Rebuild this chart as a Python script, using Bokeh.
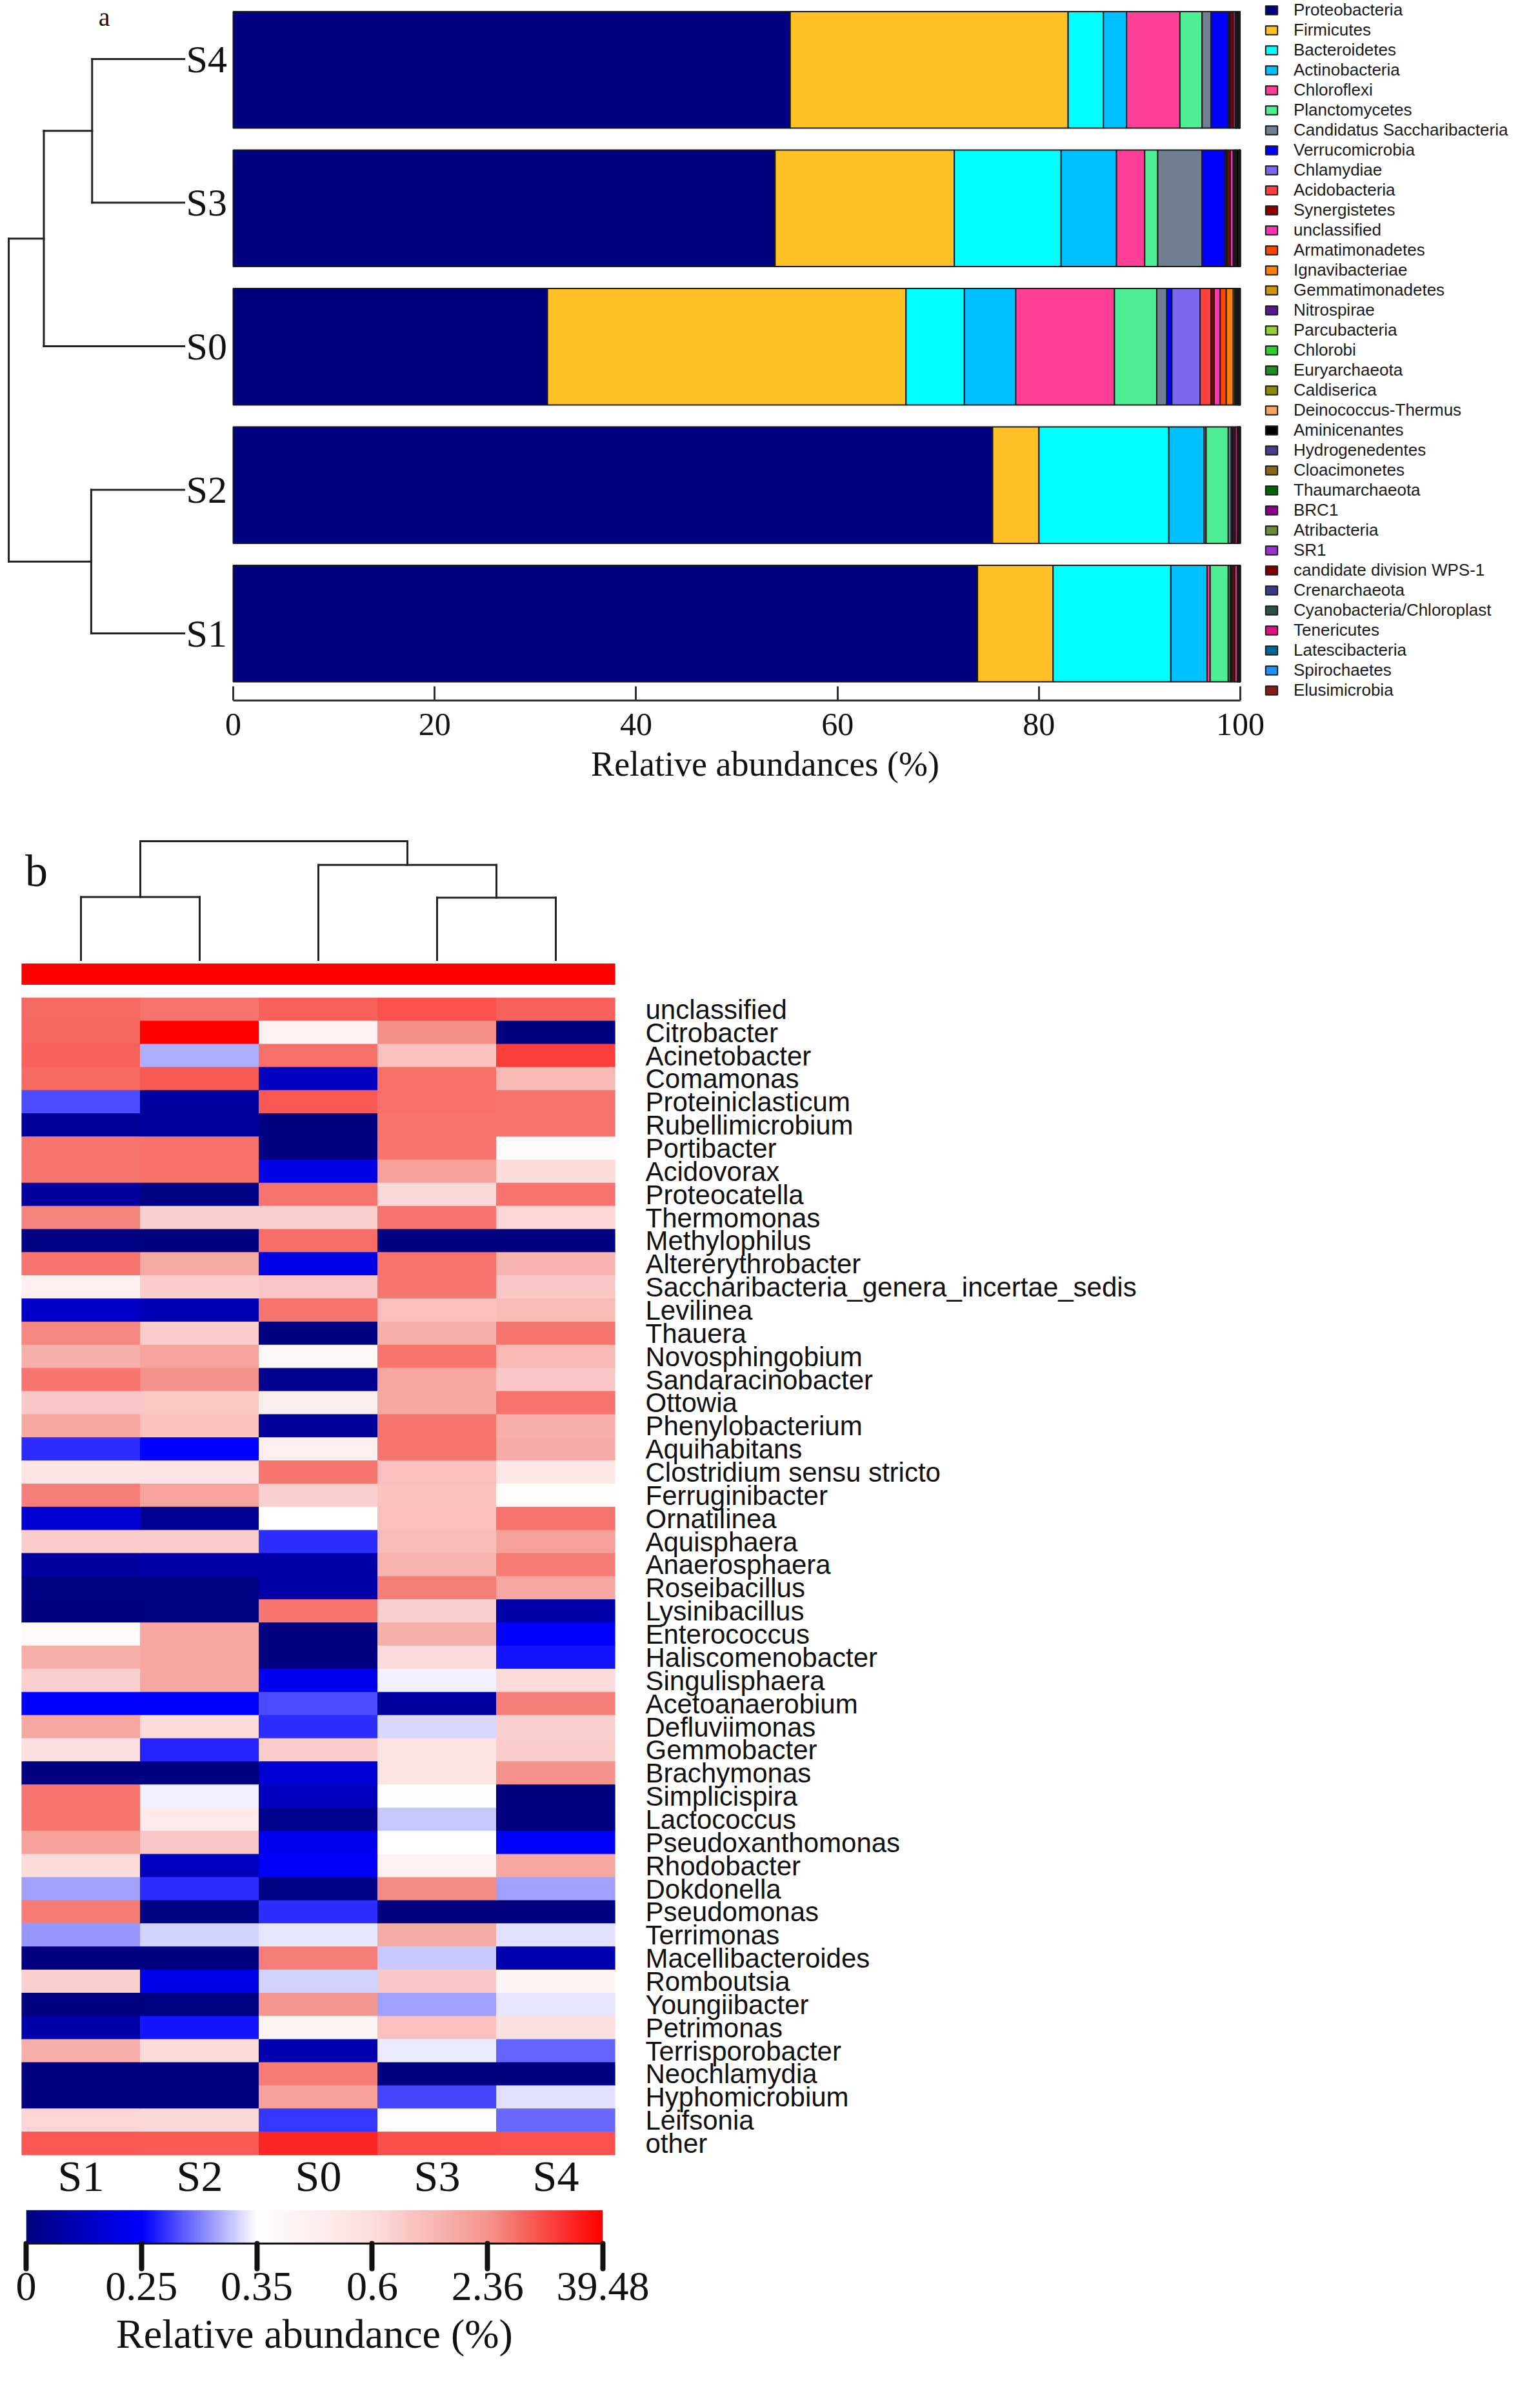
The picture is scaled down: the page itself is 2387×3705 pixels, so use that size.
import numpy as np
from bokeh.plotting import figure
from bokeh.models import (Range1d, LinearColorMapper, Legend, LegendItem, FixedTicker,
                          ColumnDataSource, Label, LinearAxis)
from bokeh.layouts import row, column
from bokeh.embed import file_html
from bokeh.resources import INLINE
from bokeh.core.properties import value
from bokeh.transform import transform

# ---------------------------------------------------------------- data
samples = ["S1", "S2", "S0", "S3", "S4"]          # bottom-to-top in (a), left-to-right in (b)

phyla = ["Proteobacteria", "Firmicutes", "Bacteroidetes", "Actinobacteria", "Chloroflexi",
         "Planctomycetes", "Candidatus Saccharibacteria", "Verrucomicrobia", "Chlamydiae",
         "Acidobacteria", "Synergistetes", "unclassified", "Armatimonadetes", "Ignavibacteriae",
         "Gemmatimonadetes", "Nitrospirae", "Parcubacteria", "Chlorobi", "Euryarchaeota",
         "Caldiserica", "Deinococcus-Thermus", "Aminicenantes", "Hydrogenedentes",
         "Cloacimonetes", "Thaumarchaeota", "BRC1", "Atribacteria", "SR1",
         "candidate division WPS-1", "Crenarchaeota", "Cyanobacteria/Chloroplast",
         "Tenericutes", "Latescibacteria", "Spirochaetes", "Elusimicrobia"]

phylum_colors = ["#000080", "#FFC125", "#00FFFF", "#00BFFF", "#FF3E96", "#4EEE94", "#708090",
                 "#0000FF", "#7B68EE", "#FF4040", "#8B0000", "#FF34B3", "#FF4500", "#FF7F00",
                 "#CD950C", "#551A8B", "#9ACD32", "#32CD32", "#228B22", "#8B8B00", "#F4A460",
                 "#000000", "#483D8B", "#8B6914", "#006400", "#8B008B", "#6E8B3D", "#9932CC",
                 "#800000", "#3A3A8B", "#2F4F4F", "#E3117A", "#00688B", "#1E90FF", "#8B1A1A"]

# relative abundance (%) of each phylum, same order as `phyla`
phylum_S1 = [73.9, 7.5, 11.7, 3.6, 0.3, 1.8, 0.2, 0.1, 0.05, 0.05, 0.25, 0.25, 0.01, 0.01,
             0.01, 0.01, 0.01, 0.01, 0.01, 0.01, 0.01, 0.07, 0.01, 0.01, 0.01, 0.01, 0.01,
             0.01, 0.01, 0.01, 0.02, 0.01, 0.01, 0.01, 0.01]
phylum_S2 = [75.4, 4.6, 12.9, 3.5, 0.2, 2.2, 0.3, 0.1, 0.05, 0.05, 0.2, 0.2, 0.01, 0.01,
             0.01, 0.01, 0.01, 0.01, 0.01, 0.01, 0.01, 0.07, 0.01, 0.01, 0.01, 0.01, 0.01,
             0.01, 0.01, 0.01, 0.02, 0.01, 0.01, 0.01, 0.01]
phylum_S0 = [31.2, 35.6, 5.8, 5.1, 9.8, 4.2, 1.0, 0.5, 2.8, 1.1, 0.3, 0.6, 0.6, 0.7,
             0.15, 0.1, 0.05, 0.1, 0.05, 0.02, 0.02, 0.05, 0.02, 0.02, 0.01, 0.01, 0.01,
             0.01, 0.01, 0.01, 0.01, 0.01, 0.01, 0.01, 0.01]
phylum_S3 = [53.8, 17.8, 10.6, 5.5, 2.8, 1.3, 4.4, 2.3, 0.1, 0.1, 0.3, 0.3, 0.05, 0.05,
             0.05, 0.03, 0.05, 0.03, 0.02, 0.01, 0.01, 0.26, 0.01, 0.01, 0.01, 0.01, 0.01,
             0.01, 0.01, 0.01, 0.02, 0.01, 0.01, 0.01, 0.01]
phylum_S4 = [55.3, 27.6, 3.5, 2.3, 5.3, 2.2, 0.9, 1.7, 0.1, 0.1, 0.3, 0.2, 0.03, 0.03,
             0.03, 0.02, 0.02, 0.02, 0.01, 0.01, 0.01, 0.15, 0.01, 0.01, 0.01, 0.01, 0.01,
             0.01, 0.01, 0.01, 0.02, 0.01, 0.01, 0.01, 0.01]

# hierarchical clustering of the samples: (child, child, merge height)
linkage = [("S3", "S4", 0.525),
           ("S1", "S2", 0.53),
           ("S0", "S3+S4", 0.80),
           ("S1+S2", "S0+S3+S4", 1.0)]

genera = ["unclassified", "Citrobacter", "Acinetobacter", "Comamonas", "Proteiniclasticum",
          "Rubellimicrobium", "Portibacter", "Acidovorax", "Proteocatella", "Thermomonas",
          "Methylophilus", "Altererythrobacter", "Saccharibacteria_genera_incertae_sedis",
          "Levilinea", "Thauera", "Novosphingobium", "Sandaracinobacter", "Ottowia",
          "Phenylobacterium", "Aquihabitans", "Clostridium sensu stricto", "Ferruginibacter",
          "Ornatilinea", "Aquisphaera", "Anaerosphaera", "Roseibacillus", "Lysinibacillus",
          "Enterococcus", "Haliscomenobacter", "Singulisphaera", "Acetoanaerobium",
          "Defluviimonas", "Gemmobacter", "Brachymonas", "Simplicispira", "Lactococcus",
          "Pseudoxanthomonas", "Rhodobacter", "Dokdonella", "Pseudomonas", "Terrimonas",
          "Macellibacteroides", "Romboutsia", "Youngiibacter", "Petrimonas",
          "Terrisporobacter", "Neochlamydia", "Hyphomicrobium", "Leifsonia", "other"]

# relative abundance (%) of each genus, same order as `genera`
genus_S1 = [13, 14, 15, 13, 0.28, 0.05, 9.8, 9.8, 0.06, 6.8, 0.01, 9.8, 0.47, 0.14, 5.8,
            1.72, 9.8, 1.14, 1.92, 0.269, 0.55, 7.8, 0.157, 1.04, 0.063, 0.01, 0.0, 0.39,
            1.72, 0.94, 0.25, 1.92, 0.585, 0.0, 9.8, 9.8, 2.1, 0.65, 0.313, 8.8, 0.31, 0.0,
            0.94, 0.0, 0.08, 1.72, 0.0, 0.0, 0.8, 17.5]
genus_S2 = [11, 39.48, 0.318, 17, 0.063, 0.06, 11.5, 11.5, 0.01, 0.94, 0.0, 1.9, 1.04, 0.11,
            1.04, 2.05, 2.85, 1.1, 1.24, 0.25, 0.55, 2.05, 0.04, 1.04, 0.08, 0.01, 0.01,
            1.92, 1.92, 1.92, 0.25, 0.65, 0.265, 0.0, 0.345, 0.5, 1.14, 0.126, 0.269, 0.01,
            0.332, 0.0, 0.2, 0.01, 0.259, 0.65, 0.0, 0.0, 0.75, 17]
genus_S0 = [15.5, 0.45, 11.5, 0.126, 17.5, 0.0, 0.0, 0.2, 10.5, 0.94, 12.5, 0.2, 1.14, 10.5,
            0.0, 0.40, 0.03, 0.48, 0.05, 0.47, 9.8, 0.94, 0.35, 0.269, 0.08, 0.08, 9.8, 0.0,
            0.0, 0.22, 0.28, 0.269, 1.04, 0.17, 0.126, 0.03, 0.22, 0.24, 0.01, 0.269, 0.341,
            7.8, 0.332, 2.3, 0.43, 0.094, 8.8, 2.1, 0.272, 30]
genus_S3 = [18.5, 3.5, 1.3, 11.5, 11.5, 11, 10, 2.1, 0.75, 11, 0.0, 10.5, 9.8, 1.33, 1.72,
            9.8, 1.92, 1.92, 9.8, 9.8, 1.33, 1.24, 1.33, 1.43, 1.62, 7.8, 0.94, 1.72, 0.65,
            0.345, 0.06, 0.335, 0.555, 0.555, 0.36, 0.328, 0.35, 0.45, 4.8, 0.0, 1.82, 0.328,
            1.14, 0.313, 1.33, 0.342, 0.0, 0.278, 0.355, 19.7]
genus_S4 = [15.5, 0.0, 24, 1.5, 11, 10.5, 0.39, 0.65, 11, 0.8, 0.0, 1.6, 1.14, 1.43, 9.8,
            1.53, 1.14, 10.5, 1.72, 1.82, 0.52, 0.37, 10.5, 2.1, 8.8, 1.92, 0.08, 0.25, 0.258,
            0.65, 7.8, 0.94, 1.04, 2.85, 0.0, 0.0, 0.25, 1.92, 0.313, 0.0, 0.338, 0.094,
            0.43, 0.34, 0.585, 0.29, 0.0, 0.338, 0.291, 19]

sample_group = ["all", "all", "all", "all", "all"]
group_colors = {"all": "#FF0000"}

scale_ticks = [0, 0.25, 0.35, 0.6, 2.36, 39.48]
scale_tick_labels = ["0", "0.25", "0.35", "0.6", "2.36", "39.48"]
scale_stop_colors = [(0, 0, 128), (0, 0, 255), (255, 255, 255),
                     (252, 222, 222), (244, 150, 142), (255, 0, 0)]

# ---------------------------------------------------------------- styles
SERIF = "Liberation Serif"
SANS = "Liberation Sans"
LINE = "#222222"
INK = "#111111"


def dendro_segments(order, links):
    pos = {s: float(i) for i, s in enumerate(order)}
    hgt = {s: 0.0 for s in order}
    p0, h0, p1, h1 = [], [], [], []
    for a, b, h in links:
        for c in (a, b):
            p0.append(pos[c]); h0.append(hgt[c]); p1.append(pos[c]); h1.append(h)
        p0.append(pos[a]); h0.append(h); p1.append(pos[b]); h1.append(h)
        pos[a + "+" + b] = (pos[a] + pos[b]) / 2.0
        hgt[a + "+" + b] = h
    return p0, h0, p1, h1


seg_p0, seg_h0, seg_p1, seg_h1 = dendro_segments(samples, linkage)

# ================================================================ panel a
bar_table = {"S1": phylum_S1, "S2": phylum_S2, "S0": phylum_S0, "S3": phylum_S3, "S4": phylum_S4}
bar_data = {"y": list(range(len(samples)))}
for j, name in enumerate(phyla):
    bar_data[name] = [bar_table[s][j] for s in samples]
bar_source = ColumnDataSource(bar_data)

pa = figure(width=2371, height=1250, title=None, x_range=Range1d(-23.126, 128.76),
            y_range=Range1d(-0.556, 4.502), y_axis_location=None, toolbar_location=None,
            output_backend="svg", min_border_left=0, min_border_right=0,
            min_border_top=0, min_border_bottom=165)
pa.grid.visible = False
pa.outline_line_color = None
pa.extra_x_ranges = {"dx": Range1d(1.048, -7.669)}
pa.extra_y_ranges = {"dy": Range1d(-0.467, 4.409)}

# stacked bars
renderers = pa.hbar_stack(phyla, y="y", height=0.8415, fill_color=phylum_colors,
                          line_color="#1a1a1a", line_width=2, source=bar_source)

# sample dendrogram + leaf labels
pa.segment(x0=seg_h0, y0=seg_p0, x1=seg_h1, y1=seg_p1, x_range_name="dx", y_range_name="dy",
           line_color=LINE, line_width=3, line_cap="square")
pa.text(x=[0.0] * len(samples), y=list(range(len(samples))), text=samples,
        x_range_name="dx", y_range_name="dy",
        text_font=value(SERIF), text_font_size="60px", text_align="left",
        text_baseline="middle", x_offset=3, text_color=INK)
pa.add_layout(Label(x=0.456, y=4.292, x_range_name="dx", y_range_name="dy", text="a",
                    text_font=SERIF, text_font_size="40px", text_align="center",
                    text_baseline="middle", text_color=INK))

xa = pa.xaxis[0]
xa.bounds = (0, 100)
xa.ticker = FixedTicker(ticks=[0, 20, 40, 60, 80, 100])
xa.major_tick_in = 22
xa.major_tick_out = 0
xa.minor_tick_line_color = None
xa.major_tick_line_width = 3
xa.major_tick_line_color = "#333333"
xa.axis_line_width = 3
xa.axis_line_color = "#333333"
xa.major_label_text_font = SERIF
xa.major_label_text_font_size = "50px"
xa.major_label_text_color = INK
xa.major_label_standoff = 20
xa.axis_label = "Relative abundances (%)"
xa.axis_label_text_font = SERIF
xa.axis_label_text_font_size = "54px"
xa.axis_label_text_font_style = "normal"
xa.axis_label_text_color = INK
xa.axis_label_standoff = 12

legend = Legend(items=[LegendItem(label=value(n), renderers=[r]) for n, r in zip(phyla, renderers)],
                location=(1959, 0), orientation="vertical", glyph_width=23, glyph_height=17,
                label_height=31, label_standoff=23, spacing=0, padding=0, margin=0,
                border_line_color=None, background_fill_alpha=0,
                label_text_font=SANS, label_text_font_size="26px", label_text_color="#1a1a1a")
pa.add_layout(legend)

# ================================================================ panel b : heatmap
palette = []
for k in range(256):
    t = 5.0 * k / 255.0
    i = min(int(t), 4)
    f = t - i
    c0, c1 = scale_stop_colors[i], scale_stop_colors[i + 1]
    rgb = [int(round(c0[m] + (c1[m] - c0[m]) * f)) for m in range(3)]
    palette.append("#%02x%02x%02x" % tuple(rgb))
mapper = LinearColorMapper(palette=palette, low=0, high=5)

heat_table = {"S1": genus_S1, "S2": genus_S2, "S0": genus_S0, "S3": genus_S3, "S4": genus_S4}
hx, hy, hv = [], [], []
n_rows = len(genera)
for ci, s in enumerate(samples):
    for ri, g in enumerate(genera):
        hx.append(ci)
        hy.append(n_rows - 1 - ri)
        hv.append(heat_table[s][ri])
ht = np.interp(hv, scale_ticks, np.arange(len(scale_ticks))).tolist()
heat_source = ColumnDataSource(dict(x=hx, y=hy, value=hv, t=ht))

ph = figure(width=2371, height=2162, title=None, x_range=Range1d(-0.5, 4.5),
            y_range=Range1d(-0.5, 56.857), y_axis_location=None, toolbar_location=None,
            output_backend="svg", min_border_left=33, min_border_right=1418,
            min_border_top=32, min_border_bottom=64)
ph.grid.visible = False
ph.outline_line_color = None
ph.rect(x="x", y="y", width=1, height=1, source=heat_source,
        fill_color=transform("t", mapper), line_color=transform("t", mapper), line_width=1)

# group colour strip
gcols = [group_colors[g] for g in sample_group]
ph.rect(x=list(range(len(samples))), y=50.527, width=1, height=0.888, fill_color=gcols,
        line_color=gcols, line_width=1)

# column dendrogram
ph.extra_y_ranges = {"dendro": Range1d(-10.054, 1.1135)}
ph.segment(x0=seg_p0, y0=seg_h0, x1=seg_p1, y1=seg_h1, y_range_name="dendro",
           line_color=LINE, line_width=3, line_cap="square")
ph.add_layout(Label(x=-0.47, y=0.75, y_range_name="dendro", text="b", text_font=SERIF,
                    text_font_size="70px", text_align="left", text_baseline="middle",
                    text_color=INK))

bx = ph.xaxis[0]
bx.ticker = FixedTicker(ticks=list(range(len(samples))))
bx.major_label_overrides = {i: s for i, s in enumerate(samples)}
bx.axis_line_color = None
bx.major_tick_line_color = None
bx.minor_tick_line_color = None
bx.major_label_text_font = SERIF
bx.major_label_text_font_size = "68px"
bx.major_label_text_color = INK
bx.major_label_standoff = -12

ry = LinearAxis(ticker=FixedTicker(ticks=list(range(n_rows))),
                major_label_overrides={n_rows - 1 - i: g for i, g in enumerate(genera)},
                axis_line_color=None, major_tick_line_color=None, minor_tick_line_color=None,
                major_label_standoff=41, major_label_text_font=SANS,
                major_label_text_font_size="42px", major_label_text_color=INK)
ph.add_layout(ry, "right")

# ================================================================ colour key
pc = figure(width=2371, height=277, title=None, x_range=Range1d(0, 5), y_range=Range1d(0, 1),
            y_axis_location=None, toolbar_location=None, output_backend="svg",
            min_border_left=40, min_border_right=1437, min_border_top=12, min_border_bottom=213)
pc.grid.visible = False
pc.outline_line_color = None
pc.image(image=[np.linspace(0, 5, 600).reshape(1, -1)], x=0, y=0, dw=5, dh=1,
         color_mapper=mapper)
cx = pc.xaxis[0]
cx.ticker = FixedTicker(ticks=list(range(len(scale_ticks))))
cx.major_label_overrides = {i: s for i, s in enumerate(scale_tick_labels)}
cx.axis_line_color = INK
cx.axis_line_width = 3
cx.major_tick_in = 0
cx.major_tick_out = 39
cx.major_tick_line_width = 8
cx.major_tick_line_cap = "round"
cx.major_tick_line_color = INK
cx.minor_tick_line_color = None
cx.major_label_text_font = SERIF
cx.major_label_text_font_size = "64px"
cx.major_label_text_color = INK
cx.major_label_standoff = 6
cx.axis_label = "Relative abundance (%)"
cx.axis_label_text_font = SERIF
cx.axis_label_text_font_size = "64px"
cx.axis_label_text_font_style = "normal"
cx.axis_label_text_color = INK
cx.axis_label_standoff = 14

layout = column(row(pa, spacing=0), row(ph, spacing=0), row(pc, spacing=0), spacing=0)
open("out.html", "w").write(file_html(layout, INLINE))
